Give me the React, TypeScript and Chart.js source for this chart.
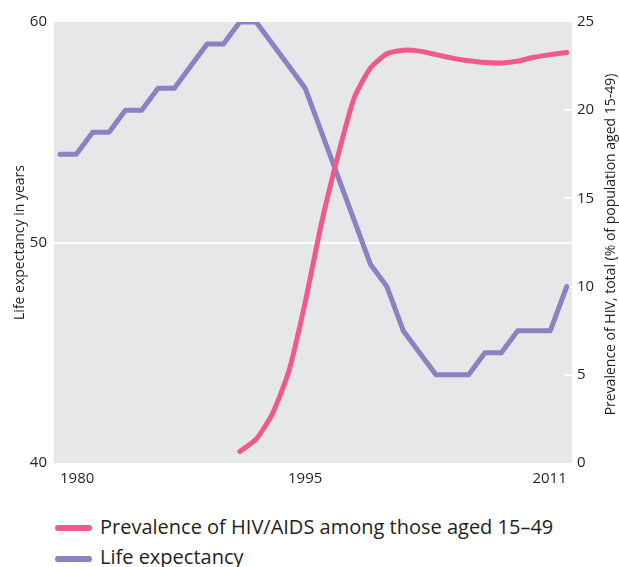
import React, { useEffect, useRef } from 'react';
import { Chart, registerables } from 'chart.js';

Chart.register(...registerables);

const years = [
  1980, 1981, 1982, 1983, 1984, 1985, 1986, 1987, 1988, 1989, 1990,
  1991, 1992, 1993, 1994, 1995, 1996, 1997, 1998, 1999, 2000, 2001,
  2002, 2003, 2004, 2005, 2006, 2007, 2008, 2009, 2010, 2011,
];
const lifeExpectancy = [
  54, 54, 55, 55, 56, 56, 57, 57, 58, 59, 59,
  60, 60, 59, 58, 57, 55, 53, 51, 49, 48, 46,
  45, 44, 44, 44, 45, 45, 46, 46, 46, 48,
];
const hivYears = [
  1991, 1992, 1993, 1994, 1995, 1996, 1997, 1998, 1999, 2000, 2001,
  2002, 2003, 2004, 2005, 2006, 2007, 2008, 2009, 2010, 2011,
];
const hivPrevalence = [
  0.65, 1.35, 2.8, 5.2, 9.1, 13.6, 17.4, 20.7, 22.4, 23.2, 23.4,
  23.35, 23.15, 22.95, 22.8, 22.7, 22.68, 22.78, 23.0, 23.15, 23.27,
];
const xTickYears = [1980, 1995, 2011];
const rightTickMarks = [5, 10, 15, 20];

const leftTitle = 'Life expectancy in years';
const rightTitle = 'Prevalence of HIV, total (% of population aged 15-49)';
const hivLabel = 'Prevalence of HIV/AIDS among those aged 15\u201349';
const lifeLabel = 'Life expectancy';

const PINK = '#ef5a8b';
const PURPLE = '#8a82c2';
const PLOT_BG = '#e6e7e8';
const TEXT = '#231f20';
const FONT = '"Open Sans", sans-serif';

const CANVAS_W = 619;
const CANVAS_H = 505;

export default function App() {
  const ref = useRef<HTMLCanvasElement>(null);

  useEffect(() => {
    const canvas = ref.current;
    if (!canvas) return;

    const decor = {
      id: 'decor',
      beforeDraw(chart: any) {
        const { ctx, chartArea: a } = chart;
        ctx.save();
        ctx.fillStyle = PLOT_BG;
        ctx.fillRect(a.left, a.top, a.right - a.left, a.bottom - a.top);
        ctx.restore();
      },
      beforeDatasetsDraw(chart: any) {
        const { ctx, chartArea: a } = chart;
        const y2 = chart.scales.y2;
        ctx.save();
        ctx.strokeStyle = '#ffffff';
        ctx.lineWidth = 2;
        rightTickMarks.forEach((v) => {
          const y = Math.round(y2.getPixelForValue(v));
          ctx.beginPath();
          ctx.moveTo(a.right - 8, y);
          ctx.lineTo(a.right, y);
          ctx.stroke();
        });
        ctx.restore();
      },
      afterDraw(chart: any) {
        const { ctx, chartArea: a } = chart;
        ctx.save();
        ctx.fillStyle = TEXT;
        ctx.font = '14px ' + FONT;
        ctx.textAlign = 'center';
        ctx.textBaseline = 'middle';
        ctx.translate(611, (a.top + a.bottom) / 2 + 2);
        ctx.rotate(-Math.PI / 2);
        ctx.fillText(rightTitle, 0, 0);
        ctx.restore();
      },
    };

    const chart = new Chart(canvas, {
      type: 'line',
      data: {
        datasets: [
          {
            label: hivLabel,
            data: hivYears.map((x, i) => ({ x, y: hivPrevalence[i] })),
            yAxisID: 'y2',
            borderColor: PINK,
            backgroundColor: PINK,
            borderWidth: 5,
            pointRadius: 0,
            tension: 0.2,
            borderCapStyle: 'round',
            borderJoinStyle: 'round',
            order: 0,
          },
          {
            label: lifeLabel,
            data: years.map((x, i) => ({ x, y: lifeExpectancy[i] })),
            yAxisID: 'y',
            borderColor: PURPLE,
            backgroundColor: PURPLE,
            borderWidth: 5,
            pointRadius: 0,
            tension: 0,
            borderCapStyle: 'round',
            borderJoinStyle: 'round',
            order: 1,
          },
        ],
      },
      options: {
        responsive: false,
        animation: false,
        events: [],
        layout: { padding: { top: 22, left: 0, right: 0, bottom: 0 }, autoPadding: false },
        plugins: { legend: { display: false }, tooltip: { enabled: false } },
        scales: {
          x: {
            type: 'linear',
            min: 1979.633,
            max: 2011.324,
            grid: { display: false, drawTicks: false },
            border: { display: false },
            afterBuildTicks: (s: any) => {
              s.ticks = xTickYears.map((v) => ({ value: v }));
            },
            ticks: {
              padding: 7,
              color: TEXT,
              font: { size: 15, family: FONT },
              align: 'inner',
              maxRotation: 0,
              autoSkip: false,
              callback: (v: any) => String(v),
            },
            afterFit: (s: any) => {
              s.height = CANVAS_H - 463;
            },
          },
          y: {
            position: 'left',
            min: 40,
            max: 60,
            ticks: {
              stepSize: 10,
              padding: 7,
              color: TEXT,
              font: { size: 15, family: FONT },
            },
            grid: {
              color: (c: any) => (c.tick && c.tick.value === 50 ? '#ffffff' : 'rgba(0,0,0,0)'),
              lineWidth: 2,
              drawTicks: false,
            },
            border: { display: false },
            title: {
              display: true,
              text: leftTitle,
              color: TEXT,
              font: { size: 14, family: FONT },
              padding: { top: 12, bottom: 0 },
            },
            afterFit: (s: any) => {
              s.width = 54;
            },
          },
          y2: {
            position: 'right',
            min: 0,
            max: 25,
            ticks: {
              stepSize: 5,
              padding: 5,
              color: TEXT,
              font: { size: 15, family: FONT },
            },
            grid: { display: false, drawTicks: false },
            border: { display: false },
            afterFit: (s: any) => {
              s.width = CANVAS_W - 572;
            },
          },
        },
      } as any,
      plugins: [decor],
    });

    return () => chart.destroy();
  }, []);

  const legendText: React.CSSProperties = {
    position: 'absolute',
    left: 100,
    fontFamily: FONT,
    fontSize: 20,
    lineHeight: '20px',
    color: TEXT,
    whiteSpace: 'nowrap',
  };
  const legendLine: React.CSSProperties = {
    position: 'absolute',
    left: 55,
    width: 37,
    height: 6,
    borderRadius: 3,
  };

  return (
    <div
      style={{
        position: 'fixed',
        left: 0,
        top: 0,
        width: 619,
        height: 567,
        overflow: 'hidden',
        background: '#ffffff',
      }}
    >
      <canvas ref={ref} width={CANVAS_W} height={CANVAS_H} style={{ display: 'block' }} />
      <div style={{ ...legendLine, top: 525, background: PINK }} />
      <div style={{ ...legendText, top: 517 }}>{hivLabel}</div>
      <div style={{ ...legendLine, top: 556, background: PURPLE }} />
      <div style={{ ...legendText, top: 547 }}>{lifeLabel}</div>
    </div>
  );
}
